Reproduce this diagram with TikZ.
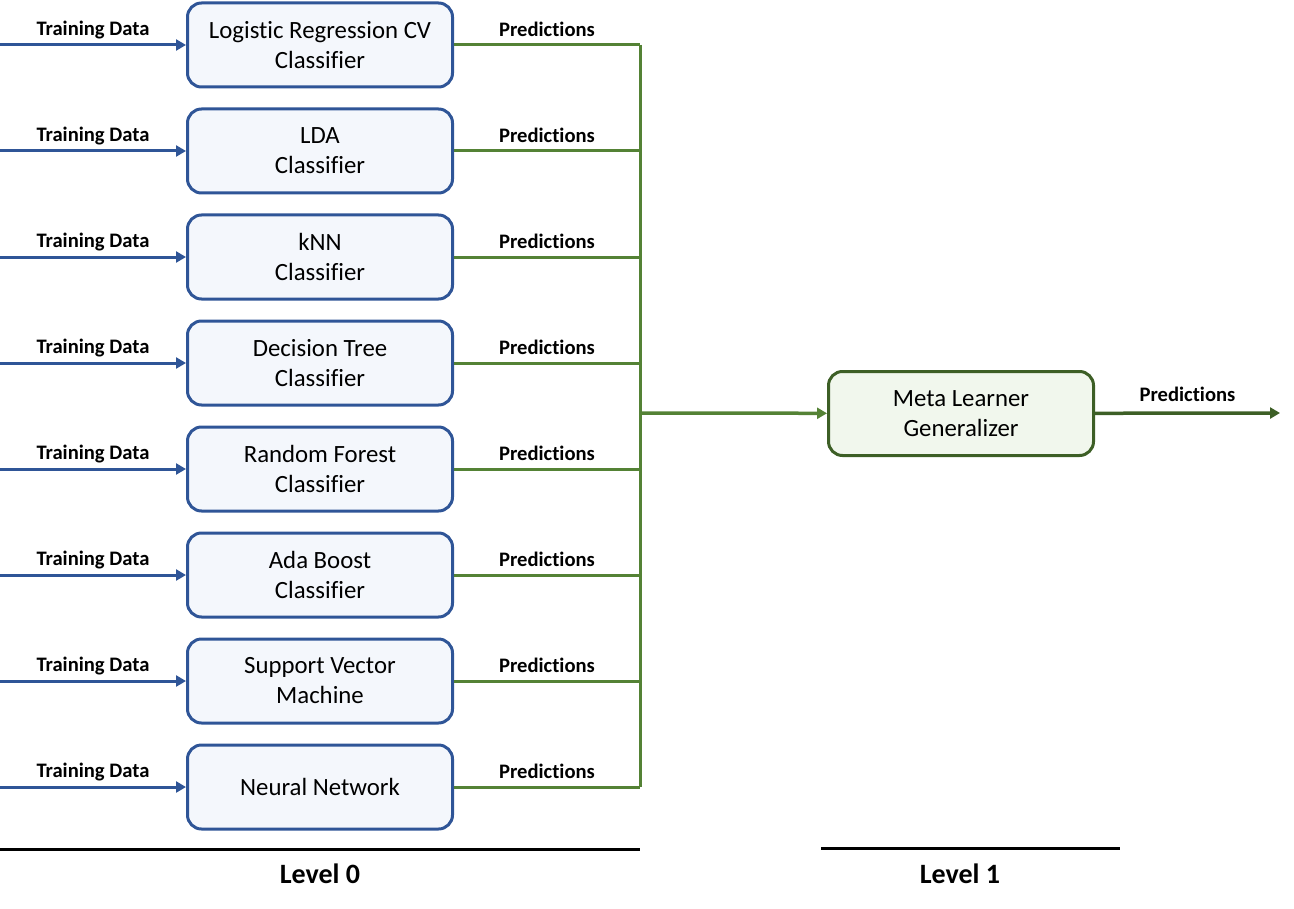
\documentclass[tikz,border=0pt]{standalone}
\usepackage{fontspec}
\setmainfont[Ligatures={NoCommon,NoContextual}, Contextuals=NoAlternate]{Carlito}
\usetikzlibrary{arrows.meta, positioning}
\definecolor{boxblue}{HTML}{2F5597}
\definecolor{boxfill}{HTML}{F4F7FC}
\definecolor{predgreen}{HTML}{548235}
\definecolor{metagreen}{HTML}{3D5F26}
\definecolor{metafill}{HTML}{F1F7ED}

\begin{document}
\begin{tikzpicture}[x=0.5pt, y=-0.5pt,
	clf/.style={draw=boxblue, fill=boxfill, line width=1.5pt, rounded corners=7pt,
		minimum width=132.5pt, minimum height=42pt, inner sep=0pt, align=center,
		font=\fontsize{12.4}{15}\selectfont},
	metabox/.style={clf, draw=metagreen, fill=metafill},
	lbl/.style={font=\fontsize{10.3}{12}\selectfont\bfseries},
	lvl/.style={font=\fontsize{14}{16}\selectfont\bfseries},
	tdarrow/.style={draw=boxblue, line width=1.5pt, -{Triangle[length=5pt,width=5.5pt]}},
	predline/.style={draw=predgreen, line width=1.5pt},
	predarrow/.style={draw=predgreen, line width=1.75pt, -{Triangle[length=5pt,width=5.5pt]}},
	outarrow/.style={draw=metagreen, line width=1.75pt, -{Triangle[length=5pt,width=5.5pt]}},
	levelline/.style={draw=black, line width=1.5pt}]
	\useasboundingbox (0,0) rectangle (1294,909);

	% level 0 classifiers
	\foreach \txt [count=\i] in {{Logistic Regression CV\\Classifier}, {LDA\\Classifier},
		{kNN\\Classifier}, {Decision Tree\\Classifier}, {Random Forest\\Classifier},
		{Ada Boost\\Classifier}, {Support Vector\\Machine}, {Neural Network}} {
		\pgfmathsetmacro\yy{45+106*(\i-1)}
		\node[clf] (c\i) at (320,\yy) {\txt};
		\coordinate (in\i) at (0,\yy);
		\coordinate (bus\i) at (640,\yy);
		\draw[tdarrow] (in\i) -- node[lbl, midway, yshift=7.5pt] {Training Data} (c\i);
		\draw[predline] (c\i) -- node[lbl, midway, yshift=8pt] {Predictions} (bus\i);
	}
	\draw[predline] (bus1) -- (bus8);

	% level 1
	\node[metabox] (meta) at (961,413.5) {Meta Learner\\Generalizer};
	\coordinate (busmid) at (640,413);
	\coordinate (out) at (1280,413);
	\draw[predarrow] (busmid) -- (meta);
	\draw[outarrow] (meta) -- node[lbl, midway, yshift=9.5pt] {Predictions} (out);

	% level lines
	\coordinate (l0a) at (0,849);
	\coordinate (l0b) at (640,849);
	\coordinate (l1a) at (821,848);
	\coordinate (l1b) at (1120,848);
	\draw[levelline] (l0a) -- (l0b);
	\draw[levelline] (l1a) -- (l1b);
	\node[lvl] (lev0) at (320,874) {Level 0};
	\node[lvl] (lev1) at (960,874) {Level 1};
\end{tikzpicture}
\end{document}
